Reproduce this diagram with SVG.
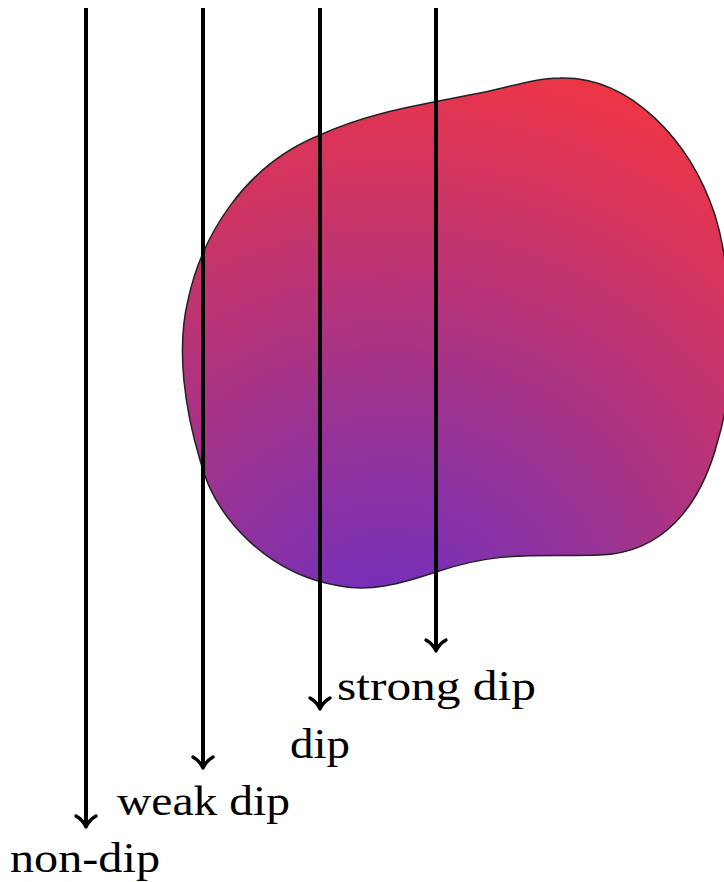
<svg xmlns="http://www.w3.org/2000/svg" width="724" height="882" viewBox="0 0 724 882">
<defs>
<radialGradient id="g" gradientUnits="userSpaceOnUse" cx="390" cy="650" r="600">
<stop offset="0" stop-color="#6a2ec6"/>
<stop offset="0.4" stop-color="#9a3393"/>
<stop offset="1" stop-color="#ee3546"/>
</radialGradient>
<style>
.arr{stroke:#000;stroke-width:4;fill:none}
.lbl{font-family:"Liberation Serif","Times New Roman",serif;font-size:43px;fill:#000;text-anchor:middle}
.ch{fill:none;stroke:#000;stroke-width:3.4;stroke-linecap:round;stroke-linejoin:round}
</style>
</defs>
<g id="blob">
<path d="M 560,78 C 630,76 690,140 715,215 C 735,280 734,390 718,440 C 700,510 660,553 600,555 C 540,557 500,550 436,572 C 400,584 370,592 340,586 C 270,575 215,520 200,460 C 185,410 176,350 188,300 C 202,235 245,165 320,135 C 370,112 420,105 480,93 C 510,87 535,78 560,78 Z" fill="url(#g)" stroke="#222" stroke-width="1.5"/>
</g>
<g id="connectors">
<line class="arr" x1="86" y1="8" x2="86" y2="825"/>
<path class="ch" d="M76,816 Q83,820 86,827 Q89,820 96,816"/>
<line class="arr" x1="203" y1="8" x2="203" y2="766"/>
<path class="ch" d="M193,757 Q200,761 203,768 Q206,761 213,757"/>
<line class="arr" x1="320" y1="8" x2="320" y2="707"/>
<path class="ch" d="M310,698 Q317,702 320,709 Q323,702 330,698"/>
<line class="arr" x1="436" y1="8" x2="436" y2="649"/>
<path class="ch" d="M426,640 Q433,644 436,651 Q439,644 446,640"/>
</g>
<g id="label-non-dip"><text class="lbl" x="85" y="872" textLength="150" lengthAdjust="spacingAndGlyphs">non-dip</text></g>
<g id="label-weak-dip"><text class="lbl" x="203.5" y="815" textLength="173" lengthAdjust="spacingAndGlyphs">weak dip</text></g>
<g id="label-dip"><text class="lbl" x="320" y="758" textLength="60" lengthAdjust="spacingAndGlyphs">dip</text></g>
<g id="label-strong-dip"><text class="lbl" x="436.5" y="700" textLength="199" lengthAdjust="spacingAndGlyphs">strong dip</text></g>
</svg>
